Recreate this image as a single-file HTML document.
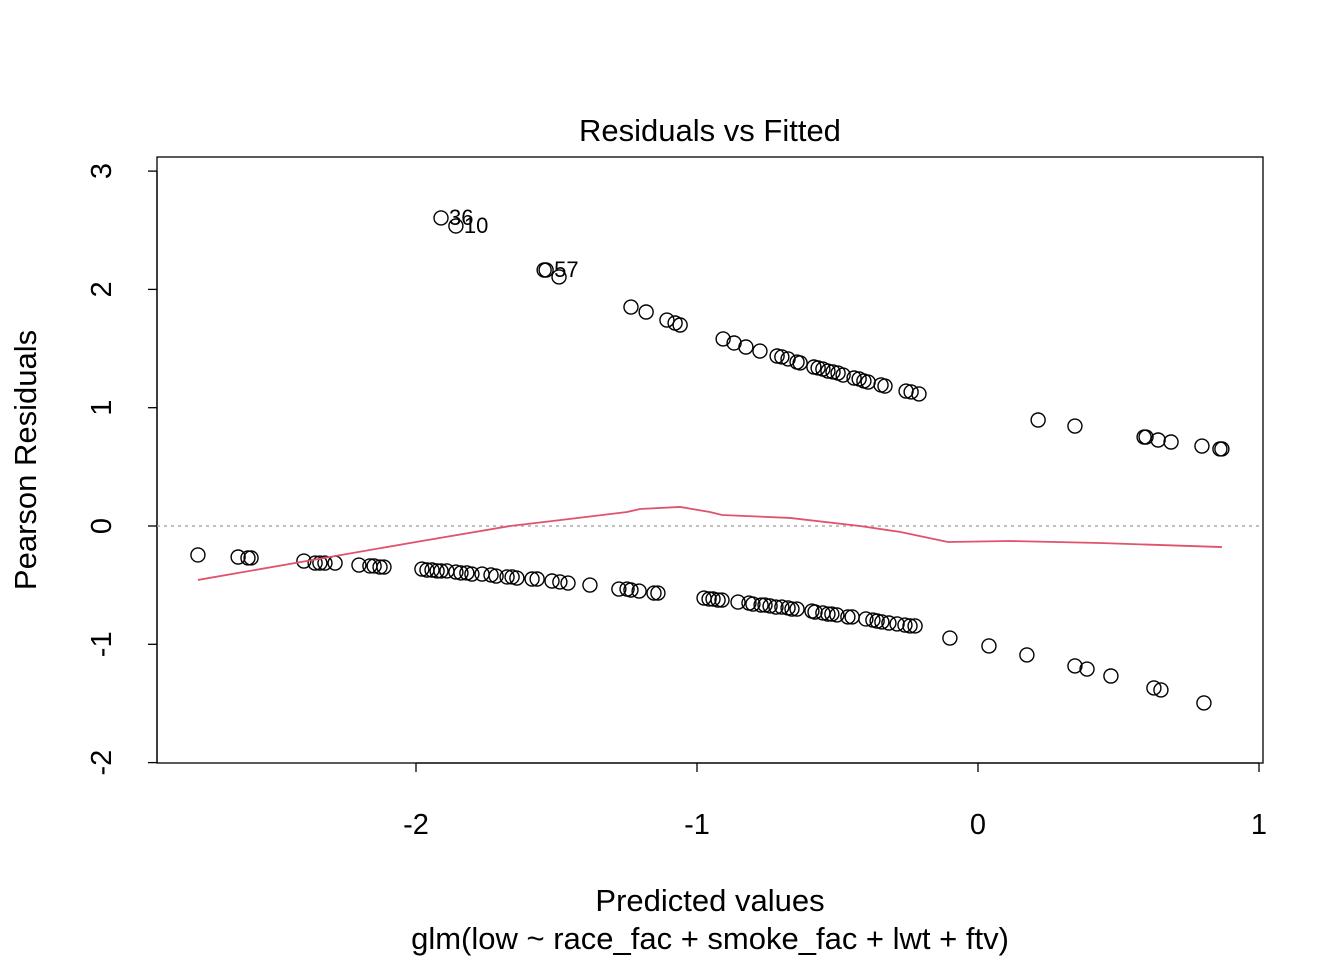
<!DOCTYPE html>
<html><head><meta charset="utf-8"><style>
body{margin:0;background:#fff;}
svg text{font-family:"Liberation Sans",Arial,sans-serif;fill:#000;}
</style></head><body>
<svg id="chart" width="1344" height="960" viewBox="0 0 1344 960" xmlns="http://www.w3.org/2000/svg">
<rect width="1344" height="960" fill="#fff"/>
<text x="710" y="141" font-size="31" text-anchor="middle">Residuals vs Fitted</text>
<text x="710" y="911" font-size="31" text-anchor="middle">Predicted values</text>
<text x="710" y="949" font-size="31" text-anchor="middle">glm(low ~ race_fac + smoke_fac + lwt + ftv)</text>
<text transform="translate(36,460) rotate(-90)" font-size="31" text-anchor="middle">Pearson Residuals</text>
<rect x="157" y="157" width="1106" height="606" fill="none" stroke="#000" stroke-width="1.3"/>
<g id="axes"></g>
<g id="marks"></g>
</svg>
<script>
const fittedUpper=[-1.911,-1.858,-1.544,-1.537,-1.491,-1.235,-1.181,-1.107,-1.078,-1.060,-0.907,-0.868,-0.826,-0.776,-0.715,-0.698,-0.676,-0.644,-0.633,-0.584,-0.569,-0.552,-0.534,-0.516,-0.498,-0.480,-0.441,-0.423,-0.406,-0.391,-0.345,-0.331,-0.256,-0.238,-0.210,0.214,0.345,0.591,0.598,0.641,0.687,0.797,0.861,0.868];
const residUpper=[2.604,2.536,2.164,2.164,2.105,1.851,1.809,1.741,1.716,1.699,1.581,1.547,1.513,1.479,1.437,1.429,1.412,1.386,1.378,1.344,1.336,1.327,1.310,1.302,1.293,1.276,1.251,1.243,1.226,1.217,1.192,1.183,1.141,1.133,1.116,0.896,0.845,0.752,0.752,0.727,0.710,0.676,0.651,0.651];
const fittedLower=[-2.776,-2.633,-2.598,-2.587,-2.399,-2.359,-2.342,-2.324,-2.288,-2.203,-2.164,-2.149,-2.128,-2.114,-1.979,-1.961,-1.943,-1.925,-1.911,-1.890,-1.858,-1.840,-1.819,-1.801,-1.765,-1.733,-1.715,-1.676,-1.658,-1.641,-1.587,-1.569,-1.516,-1.488,-1.459,-1.381,-1.278,-1.249,-1.235,-1.206,-1.153,-1.139,-0.975,-0.957,-0.943,-0.925,-0.911,-0.854,-0.815,-0.801,-0.772,-0.758,-0.740,-0.719,-0.698,-0.676,-0.662,-0.644,-0.591,-0.580,-0.552,-0.534,-0.520,-0.502,-0.463,-0.448,-0.399,-0.374,-0.359,-0.342,-0.317,-0.288,-0.260,-0.242,-0.224,-0.100,0.039,0.174,0.345,0.388,0.473,0.626,0.651,0.804];
const residLower=[-0.245,-0.262,-0.270,-0.270,-0.296,-0.313,-0.313,-0.313,-0.313,-0.330,-0.338,-0.338,-0.347,-0.347,-0.364,-0.372,-0.372,-0.380,-0.380,-0.380,-0.389,-0.397,-0.397,-0.406,-0.406,-0.414,-0.423,-0.431,-0.431,-0.440,-0.448,-0.448,-0.465,-0.473,-0.482,-0.499,-0.533,-0.533,-0.541,-0.550,-0.567,-0.567,-0.609,-0.617,-0.617,-0.626,-0.626,-0.643,-0.651,-0.660,-0.668,-0.668,-0.676,-0.685,-0.685,-0.693,-0.702,-0.702,-0.719,-0.727,-0.735,-0.744,-0.744,-0.752,-0.769,-0.769,-0.786,-0.795,-0.803,-0.811,-0.820,-0.828,-0.837,-0.845,-0.845,-0.947,-1.014,-1.090,-1.183,-1.209,-1.268,-1.369,-1.386,-1.496];
const smoothX=[-2.776,-2.0,-1.665,-1.488,-1.249,-1.203,-1.060,-0.954,-0.911,-0.669,-0.420,-0.278,-0.107,0.114,0.434,0.868];
const smoothY=[-0.456,-0.135,0,0.05,0.118,0.144,0.161,0.118,0.093,0.068,0,-0.05,-0.135,-0.127,-0.144,-0.178];
const labelIds=["36","10","57"];
const labelX=[-1.911,-1.858,-1.537];
const labelY=[2.604,2.536,2.164];
const xTicks=[-2,-1,0,1];
const yTicks=[-2,-1,0,1,2,3];

const NS="http://www.w3.org/2000/svg";
const xs=v=>978+v*281;
const ys=v=>526-v*118.3;
const axes=document.getElementById('axes');
const marks=document.getElementById('marks');
function mk(tag,attrs,parent){const e=document.createElementNS(NS,tag);for(const k in attrs)e.setAttribute(k,attrs[k]);parent.appendChild(e);return e;}

let xl=mk('line',{x1:xs(xTicks[0]),x2:xs(xTicks[xTicks.length-1]),y1:763,y2:763,stroke:'#000','stroke-width':1.3},axes);


xTicks.forEach(t=>{
  const l=mk('line',{x1:xs(t),x2:xs(t),y1:763,y2:772,stroke:'#000','stroke-width':1.3},axes);
  
  
  const tx=mk('text',{x:xs(t),y:834,'font-size':29,'text-anchor':'middle'},axes);
  tx.textContent=t<0?'-'+Math.abs(t):String(t);
  
  
});
let yl=mk('line',{x1:157,x2:157,y1:ys(yTicks[0]),y2:ys(yTicks[yTicks.length-1]),stroke:'#000','stroke-width':1.3},axes);


yTicks.forEach(t=>{
  const l=mk('line',{x1:148,x2:157,y1:ys(t),y2:ys(t),stroke:'#000','stroke-width':1.3},axes);
  
  
  const tx=mk('text',{transform:`translate(111,${ys(t)}) rotate(-90)`,'font-size':29,'text-anchor':'middle'},axes);
  tx.textContent=t<0?'-'+Math.abs(t):String(t);
  
  
});
const zl=mk('line',{x1:157,x2:1263,y1:ys(0),y2:ys(0),stroke:'#aaaaaa','stroke-width':1.5,'stroke-dasharray':'3,4'},marks);



function pts(xa,ya){xa.forEach((x,i)=>{
  const c=mk('circle',{cx:xs(x),cy:ys(ya[i]),r:7,fill:'none',stroke:'#000','stroke-width':1.4},marks);
  
  
});}
pts(fittedUpper,residUpper);
pts(fittedLower,residLower);

const sm=mk('polyline',{points:smoothX.map((x,i)=>xs(x)+','+ys(smoothY[i])).join(' '),fill:'none',stroke:'#DF536B','stroke-width':1.8},marks);



labelIds.forEach((id,i)=>{
  const t=mk('text',{x:xs(labelX[i])+8,y:ys(labelY[i])+7,'font-size':22},marks);
  t.textContent=id;
  
  
});
</script>
</body></html>
